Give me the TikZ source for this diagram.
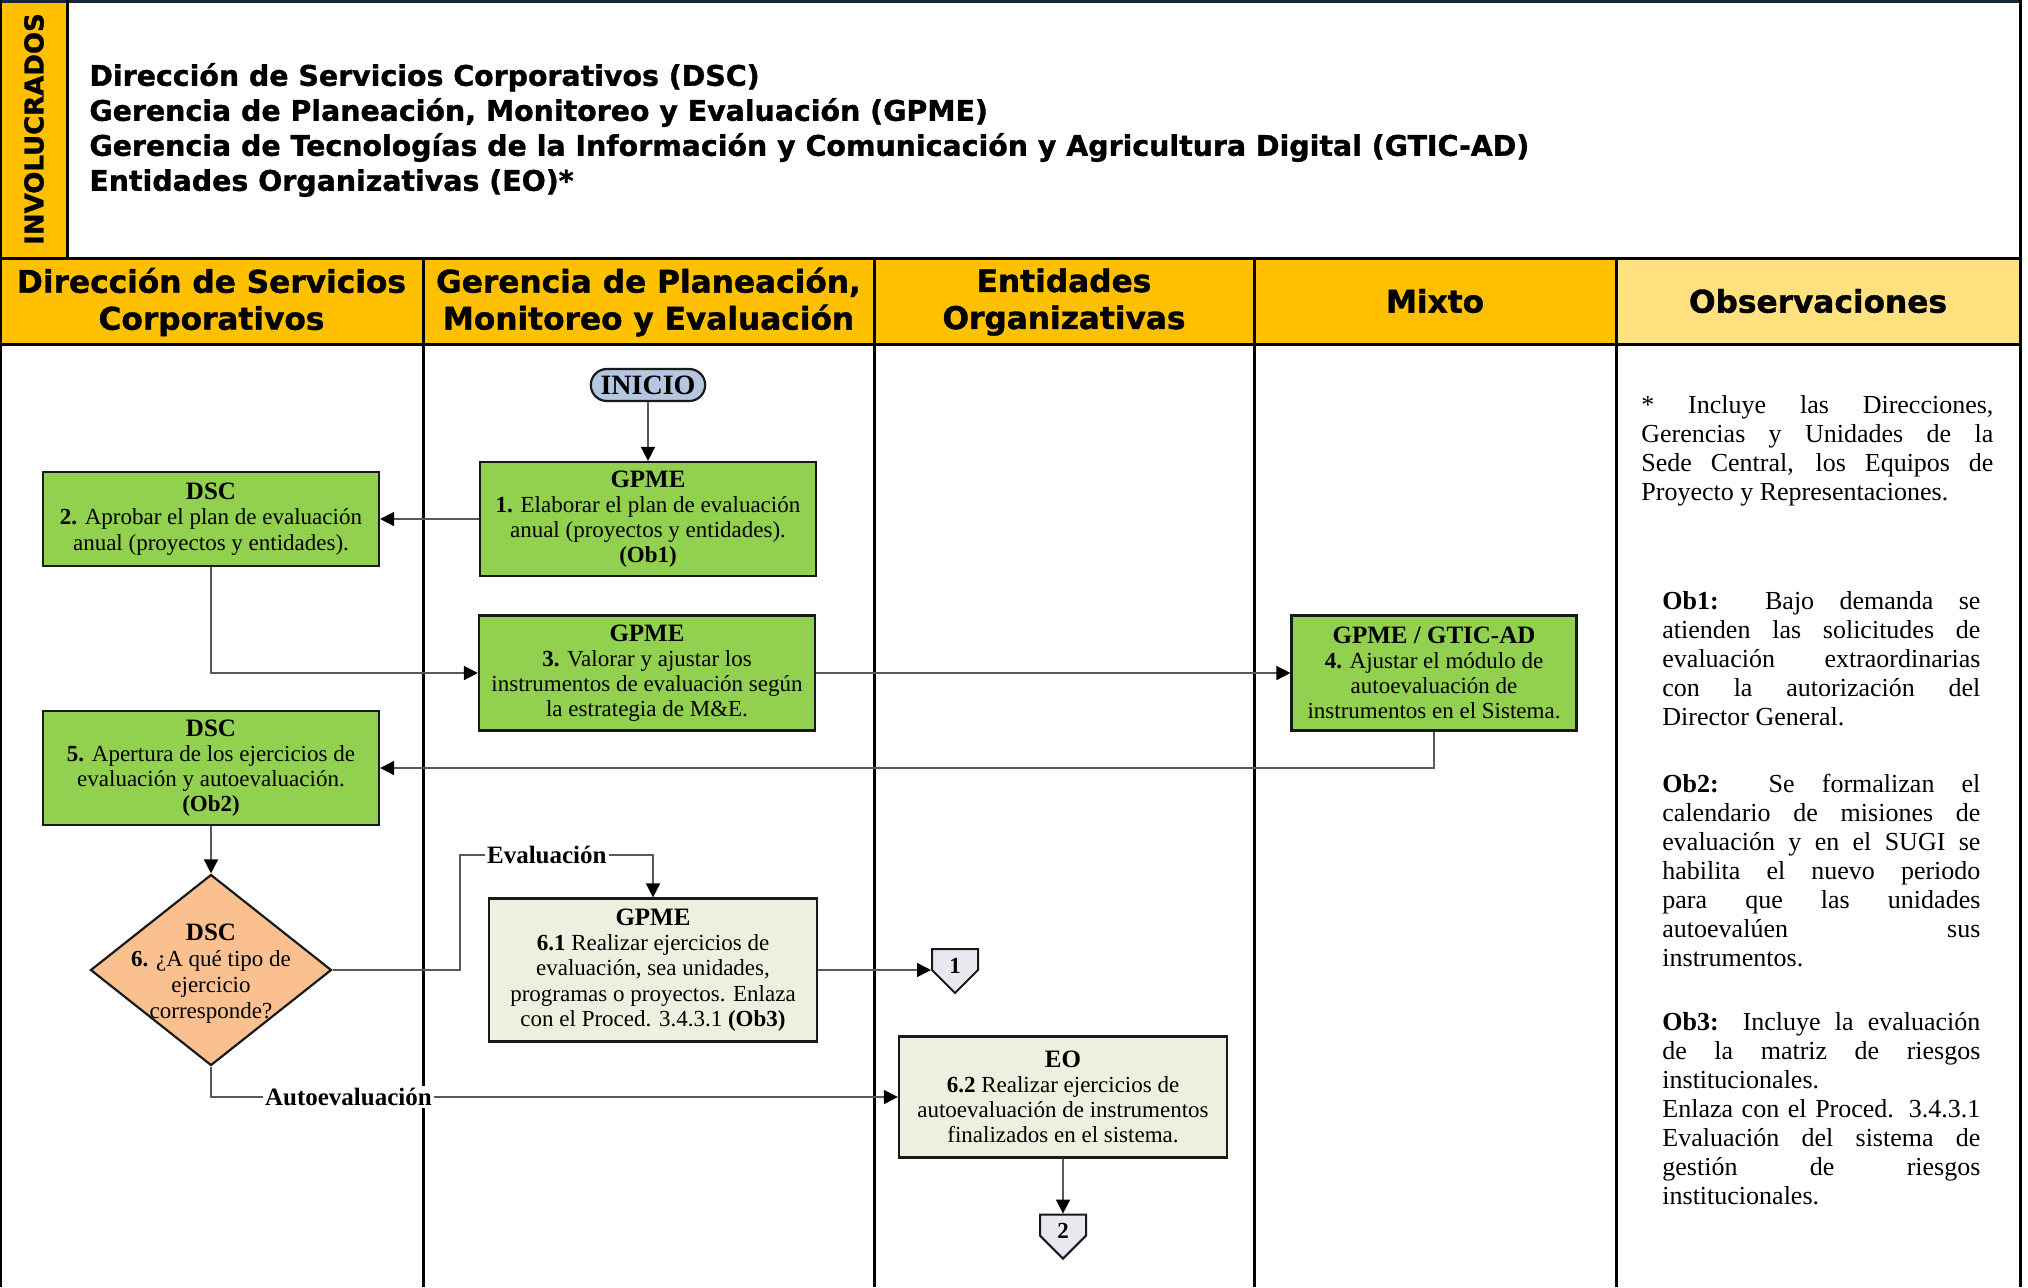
\documentclass[tikz,border=0pt]{standalone}
\usepackage{fontspec}
\setmainfont{Liberation Serif}
\newfontfamily\hdrfont{DejaVu Sans}[BoldFeatures={FakeBold=1.2}]
\usetikzlibrary{shapes.geometric, shapes.misc, shapes.symbols, arrows.meta, positioning, calc}
\definecolor{laneYellow}{HTML}{FFC000}
\definecolor{obsYellow}{HTML}{FFE17F}
\definecolor{actGreen}{HTML}{92D050}
\definecolor{paleGreen}{HTML}{EBF1DE}
\definecolor{decPeach}{HTML}{FAC090}
\definecolor{startBlue}{HTML}{B4C6E0}
\definecolor{pageLilac}{HTML}{EAE7F1}
\definecolor{flowGray}{HTML}{595959}
\definecolor{frameNavy}{HTML}{17263A}
\newcommand{\acthead}[1]{{\bfseries\fontsize{12.5}{13.5}\selectfont #1}}
\newcommand{\pagenum}[1]{\raisebox{-2.5pt}[8.5pt][0pt]{#1}}
\tikzset{
  hdr/.style={font=\hdrfont\bfseries\fontsize{15.6}{18.5}\selectfont, align=center, inner sep=0pt},
  act/.style={draw=black!90, line width=1.1pt, fill=#1, align=center, inner sep=2pt,
              minimum width=168pt, font=\fontsize{11.5}{12.6}\selectfont},
  decision/.style={diamond, draw=black!90, line width=1.1pt, fill=decPeach, inner sep=0pt,
              minimum width=120.5pt, minimum height=95.5pt, font=\fontsize{11.5}{13}\selectfont},
  startend/.style={rounded rectangle, draw=black!90, line width=1.1pt, fill=startBlue,
              minimum width=56.5pt, minimum height=16pt, inner ysep=1pt,
              font=\bfseries\fontsize{14}{14}\selectfont},
  offpage/.style={signal, signal to=south, signal pointer angle=90, draw=black!90,
              line width=1pt, fill=pageLilac, minimum width=23pt, inner xsep=1.5pt,
              inner ysep=1pt, font=\bfseries\fontsize{11.5}{12}\selectfont},
  note/.style={anchor=north west, inner sep=0pt, align=justify,
              font=\fontsize{13}{14.5}\selectfont},
  flow/.style={-{Triangle[length=7pt, width=7pt, color=black]}, line width=0.8pt, flowGray},
  lbl/.style={fill=white, inner sep=1pt, text=black, font=\bfseries\fontsize{12.5}{14}\selectfont},
  lane/.style={line width=1.5pt},
}
\begin{document}
\begin{tikzpicture}[x=0.5pt, y=-0.5pt]
  \useasboundingbox (0,0) rectangle (2028,1287);
  % franjas y carriles
  \fill[laneYellow] (0,0) rectangle (67,257);
  \fill[laneYellow] (0,258) rectangle (1616,344);
  \fill[obsYellow] (1616,258) rectangle (2020,344);
  \draw[frameNavy, line width=1.5pt] (0,1.5) -- (2020,1.5);
  \draw[lane] (67,0) -- (67,258);
  \draw[lane] (0,258) -- (2020,258);
  \draw[lane] (0,344) -- (2020,344);
  \draw[lane] (0,0) -- (0,1287);
  \draw[lane] (2020,0) -- (2020,1287);
  \foreach \x in {423,874,1254,1616}
    \draw[lane] (\x,258) -- (\x,1287);

  \node[rotate=90, font=\hdrfont\bfseries\fontsize{13}{13}\selectfont] (invol) at (34,129) {INVOLUCRADOS};
  \node[anchor=west, align=left, inner sep=0pt, font=\hdrfont\bfseries\fontsize{14.2}{17.5}\selectfont] (invlist) at (89,130)
       {Dirección de Servicios Corporativos (DSC)\\
        Gerencia de Planeación, Monitoreo y Evaluación (GPME)\\
        Gerencia de Tecnologías de la Información y Comunicación y Agricultura Digital (GTIC-AD)\\
        Entidades Organizativas (EO)*};
  \node[hdr] (hdsc) at (211.5,302) {Dirección de Servicios\\Corporativos};
  \node[hdr] (hgpme) at (648.5,302) {Gerencia de Planeación,\\Monitoreo y Evaluación};
  \node[hdr] (heo) at (1064,302) {Entidades\\Organizativas};
  \node[hdr] (hmix) at (1435,301) {Mixto};
  \node[hdr] (hobs) at (1818,301) {Observaciones};

  % actividades
  \node[startend] (inicio) at (648,385) {INICIO};
  \node[act=actGreen, minimum height=57pt] (gpme1) at (648,519)
       {\acthead{GPME}\\\textbf{1.} Elaborar el plan de evaluación\\anual (proyectos y entidades).\\\textbf{(Ob1)}};
  \node[act=actGreen, minimum height=47pt] (dsc2) at (211,519)
       {\acthead{DSC}\\\textbf{2.} Aprobar el plan de evaluación\\anual (proyectos y entidades).};
  \node[act=actGreen, minimum height=57.5pt] (gpme3) at (647,673)
       {\acthead{GPME}\\\textbf{3.} Valorar y ajustar los\\instrumentos de evaluación según\\la estrategia de M\&E.};
  \node[act=actGreen, minimum height=57.5pt, minimum width=142.5pt] (gtic4) at (1434,673)
       {\acthead{GPME / GTIC-AD}\\\textbf{4.} Ajustar el módulo de\\autoevaluación de\\instrumentos en el Sistema.};
  \node[act=actGreen, minimum height=57pt] (dsc5) at (211,768)
       {\acthead{DSC}\\\textbf{5.} Apertura de los ejercicios de\\evaluación y autoevaluación.\\\textbf{(Ob2)}};
  \node[decision] (dec6) at (211,970)
       {\smash{\makebox[0pt]{\raisebox{-5pt}{\begin{tabular}{@{}c@{}}\acthead{DSC}\\\textbf{6.} ¿A qué tipo de\\ejercicio\\corresponde?\end{tabular}}}}};
  \node[act=paleGreen, minimum height=71.5pt, minimum width=164pt] (gpme61) at (653,970)
       {\acthead{GPME}\\\textbf{6.1} Realizar ejercicios de\\evaluación, sea unidades,\\programas o proyectos. Enlaza\\con el Proced. 3.4.3.1 \textbf{(Ob3)}};
  \node[act=paleGreen, minimum height=60.5pt, minimum width=164pt] (eo62) at (1063,1097)
       {\acthead{EO}\\\textbf{6.2} Realizar ejercicios de\\autoevaluación de instrumentos\\finalizados en el sistema.};
  \node[offpage, anchor=north] (conn1) at (955,948) {\pagenum{1}};
  \node[offpage, below=27.5pt of eo62] (conn2) {\pagenum{2}};

  % conectores
  \coordinate (evbend) at (460,855);
  \draw[flow] (inicio) -- (gpme1);
  \draw[flow] (gpme1.west) -- (dsc2.east);
  \draw[flow] (dsc2.south) |- (gpme3.west);
  \draw[flow] (gpme3) -- (gtic4);
  \draw[flow] (gtic4.south) |- (dsc5.east);
  \draw[flow] (dsc5) -- (dec6);
  \draw[flow] (dec6.east) -| (evbend) -- node[lbl, pos=0.45] (evlab) {Evaluación} (gpme61.north |- evbend) -- (gpme61.north);
  \draw[flow] (dec6.south) |- node[lbl, pos=0.6] (autolab) {Autoevaluación} (eo62.west);
  \draw[flow] (gpme61.east) -- (gpme61.east -| conn1.west);
  \draw[flow] (eo62) -- (conn2);

  % observaciones
  \node[note, text width=176pt] (obs0) at (1641,395)
       {* Incluye las Direcciones,\linebreak Gerencias y Unidades de la\linebreak Sede Central, los Equipos de\linebreak Proyecto y Representaciones.};
  \node[note, text width=159pt] (obs1) at (1662,591)
       {\textbf{Ob1:} Bajo demanda se\linebreak atienden las solicitudes de\linebreak evaluación extraordinarias\linebreak con la autorización del\linebreak Director General.};
  \node[note, text width=159pt] (obs2) at (1662,774)
       {\textbf{Ob2:} Se formalizan el\linebreak calendario de misiones de\linebreak evaluación y en el SUGI se\linebreak habilita el nuevo periodo\linebreak para que las unidades\linebreak autoevalúen sus\linebreak instrumentos.};
  \node[note, text width=159pt] (obs3) at (1662,1012)
       {\textbf{Ob3:} Incluye la evaluación\linebreak de la matriz de riesgos\linebreak institucionales.\\Enlaza con el Proced. 3.4.3.1\linebreak Evaluación del sistema de\linebreak gestión de riesgos\linebreak institucionales.};
\end{tikzpicture}
\end{document}
